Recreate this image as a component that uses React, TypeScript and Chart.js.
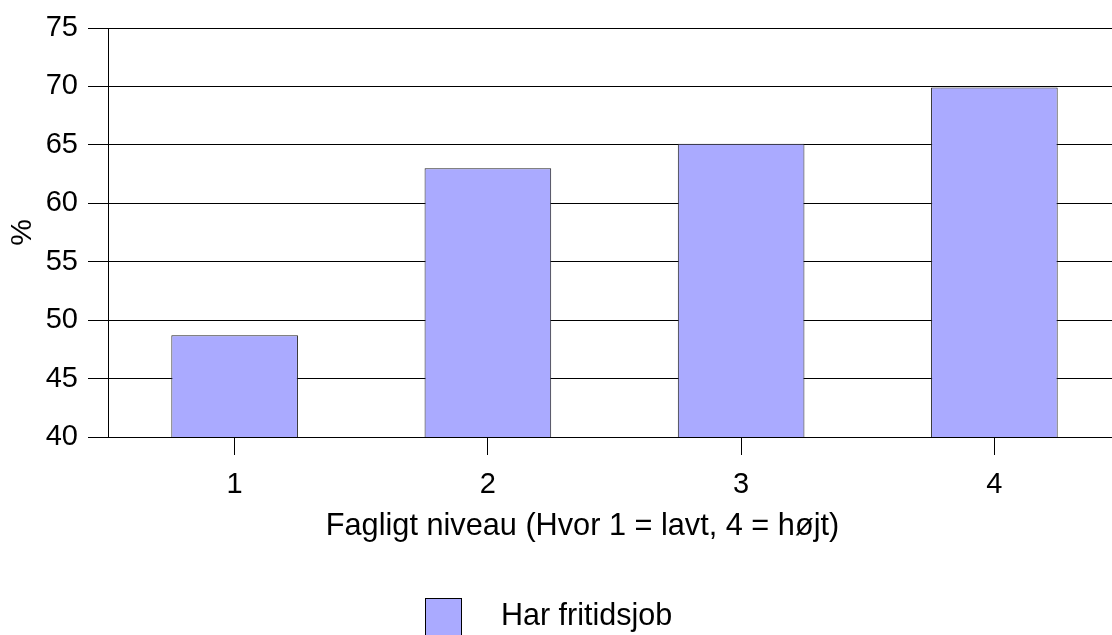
import React, { useEffect, useRef } from "react";
import { Chart, registerables } from "chart.js";

Chart.register(...registerables);

const categories = ["1", "2", "3", "4"];
const seriesLabel = "Har fritidsjob";
const seriesValues = [48.7, 63.0, 65.1, 69.9];
const yTicks = [40, 45, 50, 55, 60, 65, 70, 75];
const xTitle = "Fagligt niveau (Hvor 1 = lavt, 4 = højt)";
const yTitle = "%";

const FONT = "'Liberation Sans', Arial, Helvetica, sans-serif";
const BAR_FILL = "#aaaaff";

const overlayPlugin = {
  id: "overlayText",
  afterDraw(chart: any) {
    const ctx = chart.ctx;
    const ds = chart.data.datasets[0];
    ctx.save();
    // x-axis title
    ctx.fillStyle = "#000";
    ctx.font = `30.7px ${FONT}`;
    ctx.textBaseline = "alphabetic";
    ctx.textAlign = "center";
    ctx.fillText(xTitle, 582.5, 535);
    // legend
    ctx.fillStyle = ds.backgroundColor;
    ctx.fillRect(425, 598, 37, 40);
    ctx.strokeStyle = "#000";
    ctx.lineWidth = 1;
    ctx.strokeRect(425.5, 598.5, 36, 40);
    ctx.fillStyle = "#000";
    ctx.font = `30.5px ${FONT}`;
    ctx.textAlign = "left";
    ctx.fillText(ds.label, 501, 625);
    ctx.restore();
  },
};

export default function App() {
  const ref = useRef<HTMLCanvasElement>(null);
  useEffect(() => {
    if (!ref.current) return;
    const chart = new Chart(ref.current, {
      type: "bar",
      data: {
        labels: categories,
        datasets: [
          {
            label: seriesLabel,
            data: seriesValues,
            backgroundColor: BAR_FILL,
            borderColor: "#222",
            borderWidth: 1,
            categoryPercentage: 1,
            barPercentage: 0.5,
          },
        ],
      },
      plugins: [overlayPlugin],
      options: {
        animation: false,
        responsive: false,
        devicePixelRatio: 1,
        layout: { padding: { top: 28, left: 0, right: 0, bottom: 92 } },
        plugins: {
          legend: { display: false },
          tooltip: { enabled: false },
        },
        scales: {
          x: {
            offset: true,
            grid: {
              display: true,
              offset: false,
              drawOnChartArea: false,
              drawTicks: true,
              tickLength: 18,
              color: "#000",
              lineWidth: 1,
            },
            border: { display: true, color: "#000", width: 1 },
            ticks: {
              color: "#000",
              font: { family: FONT, size: 29 },
              padding: 13,
              maxRotation: 0,
            },
            title: { display: false },
            afterFit(scale: any) {
              scale.height = 106;
            },
          },
          y: {
            min: 40,
            max: 75,
            afterBuildTicks(scale: any) {
              scale.ticks = yTicks.map((v) => ({ value: v }));
            },
            grid: {
              color: "#000",
              lineWidth: 1,
              tickLength: 20,
              drawTicks: true,
            },
            border: { display: true, color: "#000", width: 1 },
            ticks: {
              color: "#000",
              font: { family: FONT, size: 29 },
              padding: 10,
            },
            title: {
              display: true,
              text: yTitle,
              color: "#000",
              font: { family: FONT, size: 30 },
              padding: { top: 5, bottom: 0 },
            },
            afterFit(scale: any) {
              scale.width = 108;
            },
          },
        },
      },
    });
    return () => chart.destroy();
  }, []);
  return (
    <div
      style={{
        position: "absolute",
        left: 0,
        top: 0,
        width: 1112,
        height: 635,
        overflow: "hidden",
        background: "#fff",
      }}
    >
      <canvas ref={ref} width={1121} height={635} style={{ display: "block" }} />
    </div>
  );
}
